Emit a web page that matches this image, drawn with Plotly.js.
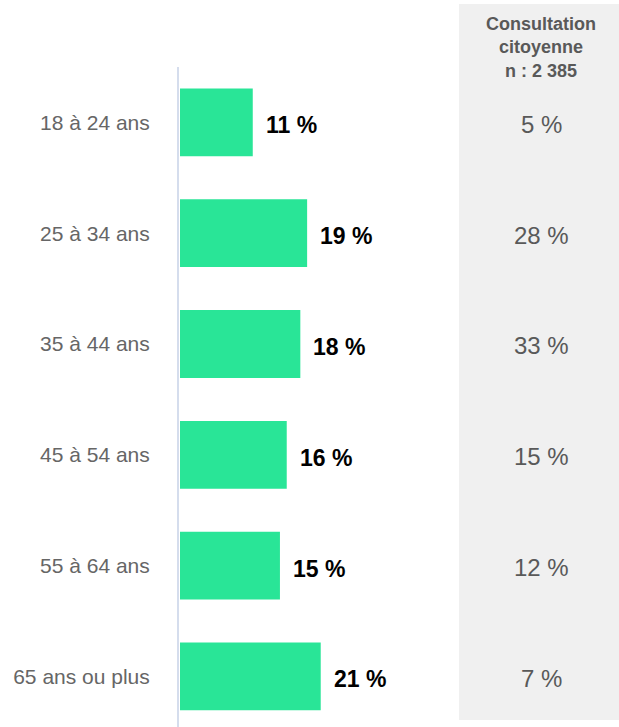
<!DOCTYPE html>
<html>
<head>
<meta charset="utf-8">
<script src="https://cdn.plot.ly/plotly-3.0.1.min.js"></script>
<style>html,body{margin:0;padding:0;background:#fff;}#chart{width:619px;height:727px;}</style>
</head>
<body>
<div id="chart"></div>
<script>
const categories = ["18 à 24 ans", "25 à 34 ans", "35 à 44 ans", "45 à 54 ans", "55 à 64 ans", "65 ans ou plus"];
const panelValues = [11, 19, 18, 16, 15, 21];
const consultationValues = [5, 28, 33, 15, 12, 7];
const columnHeader = "Consultation<br>citoyenne<br>n : 2 385";

const FONT = "Liberation Sans, Arial, sans-serif";
const plotW = 619 - 179;
const xDomainEnd = 280 / plotW;
const colX = (541 - 179) / plotW;

const annotations = [];
panelValues.forEach((v, i) => {
  annotations.push({
    x: v, y: categories[i], xref: "x", yref: "y",
    text: v + " %", showarrow: false, xanchor: "left", xshift: 10, yshift: -3,
    font: {family: FONT, size: 23, color: "#000", weight: "bold"}
  });
});
consultationValues.forEach((v, i) => {
  annotations.push({
    x: colX, y: categories[i], xref: "paper", yref: "y",
    text: v + " %", showarrow: false, xanchor: "center", yshift: -2,
    font: {family: FONT, size: 24, color: "#595959"}
  });
});
annotations.push({
  x: colX, y: (727 - 47) / 660, xref: "paper", yref: "paper",
  text: columnHeader, showarrow: false, xanchor: "center", yanchor: "middle",
  font: {family: FONT, size: 18, color: "#595959", weight: "bold"}
});

const data = [{
  type: "bar", orientation: "h",
  x: panelValues, y: categories,
  width: 0.63,
  marker: {color: "#29E597", line: {color: "#ffffff", width: 2}},
  hoverinfo: "none"
}];

const layout = {
  width: 619, height: 727,
  margin: {l: 179, r: 0, t: 67, b: 0},
  paper_bgcolor: "#ffffff", plot_bgcolor: "rgba(0,0,0,0)",
  showlegend: false,
  xaxis: {domain: [0, xDomainEnd], range: [0, 41.2], visible: false, fixedrange: true},
  yaxis: {
    type: "category", range: [5.457, -0.5],
    showline: true, linecolor: "#D5DDED", linewidth: 2, layer: "below traces",
    showgrid: false, zeroline: false, ticks: "", ticklabelstandoff: 23,
    tickfont: {family: FONT, size: 21, color: "#666666"}
  },
  shapes: [{
    type: "rect", xref: "paper", yref: "paper",
    x0: xDomainEnd, x1: 1, y0: 7 / 660, y1: (727 - 4) / 660,
    fillcolor: "#F0F0F0", line: {width: 0}, layer: "below"
  }],
  annotations: annotations
};

Plotly.newPlot("chart", data, layout, {staticPlot: true});
</script>
</body>
</html>
